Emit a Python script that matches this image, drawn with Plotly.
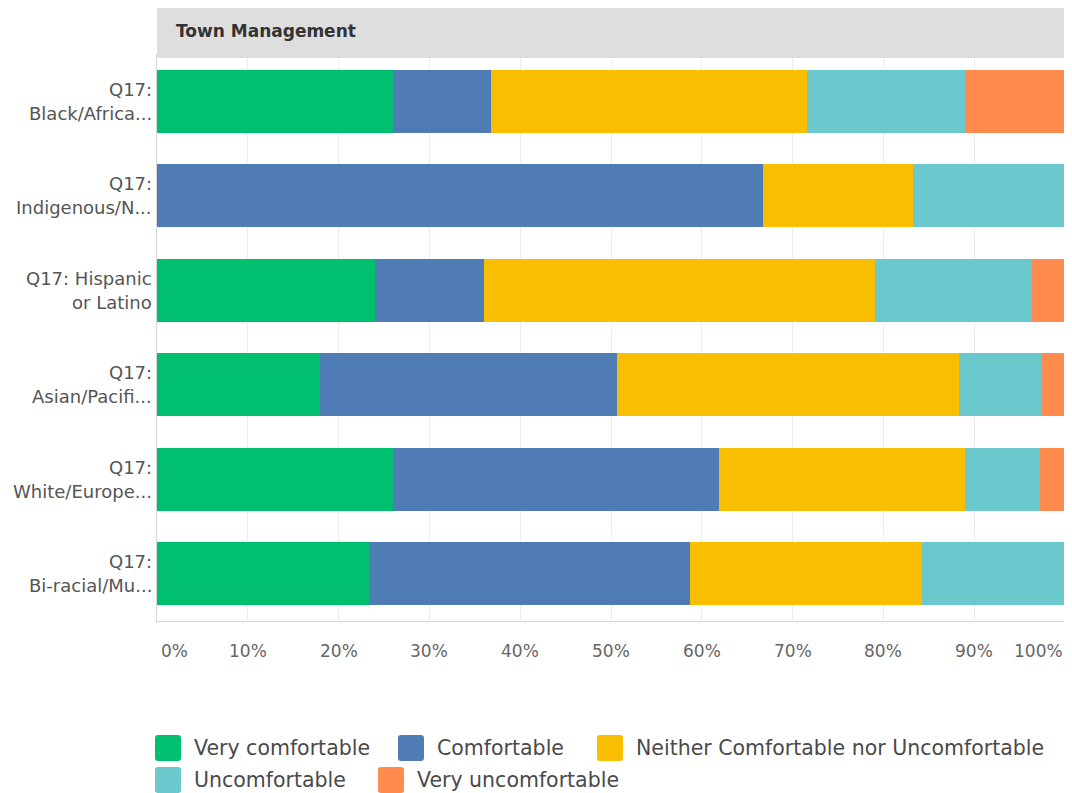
import plotly.graph_objects as go

# categories, top to bottom, label split in two lines like the original
label_line1 = ["Q17:", "Q17:", "Q17: Hispanic", "Q17:", "Q17:", "Q17:"]
label_line2 = ["Black/Africa...", "Indigenous/N...", "or Latino",
               "Asian/Pacifi...", "White/Europe...", "Bi-racial/Mu..."]
categories = [a + " " + b for a, b in zip(label_line1, label_line2)]

series_names = ["Very comfortable", "Comfortable",
                "Neither Comfortable nor Uncomfortable",
                "Uncomfortable", "Very uncomfortable"]
series_colors = ["#00bf6f", "#507cb6", "#f9be00", "#6bc8cd", "#ff8b4f"]

very_comfortable = [26.0, 0.0, 24.0, 18.0, 26.0, 23.3]
comfortable = [10.8, 66.7, 12.0, 32.7, 35.9, 35.4]
neither = [34.8, 16.6, 43.1, 37.6, 27.1, 25.5]
uncomfortable = [17.4, 16.7, 17.3, 9.1, 8.2, 15.8]
very_uncomfortable = [11.0, 0.0, 3.6, 2.6, 2.8, 0.0]

x_ticks = [0, 10, 20, 30, 40, 50, 60, 70, 80, 90, 100]
panel_title = "Town Management"

# page pixels (the browser puts the figure 8px in from the corner)
OFF = 8
W, H = 1072 - OFF, 793 - OFF
PLOT_L, PLOT_R, PLOT_T, PLOT_B = 157, 1065, 54, 621
M_L, M_T = PLOT_L - OFF, PLOT_T - OFF
M_R, M_B = W - (PLOT_R - OFF), H - (PLOT_B - OFF)
plot_w = PLOT_R - PLOT_L
plot_h = PLOT_B - PLOT_T


def px_x(px):
    return (px - PLOT_L) / plot_w


def px_y(py):
    return (PLOT_B - py) / plot_h


FONT = "DejaVu Sans"
all_series = [very_comfortable, comfortable, neither, uncomfortable, very_uncomfortable]

fig = go.Figure()
for name, color, values in zip(series_names, series_colors, all_series):
    fig.add_trace(go.Bar(
        y=categories, x=values, name=name, orientation="h",
        marker=dict(color=color, line=dict(width=0)),
        showlegend=False, hoverinfo="x+name",
    ))

annotations = []
# y labels, two lines each
for cat, l1, l2 in zip(categories, label_line1, label_line2):
    for text, shift in ((l1, 12), (l2, -12)):
        annotations.append(dict(
            x=0, xref="paper", y=cat, yref="y", text=text, showarrow=False,
            xanchor="right", yanchor="middle", xshift=-3, yshift=shift,
            font=dict(family=FONT, size=18, color="#555555"),
        ))

# x tick labels, first and last pulled inside the plot
for i, v in enumerate(x_ticks):
    anchor = "left" if i == 0 else ("right" if i == len(x_ticks) - 1 else "center")
    annotations.append(dict(
        x=v, xref="x", y=0, yref="paper", text=f"{v}%", showarrow=False,
        xanchor=anchor, yanchor="middle", yshift=-30,
        xshift=2 if i == 0 else 0,
        font=dict(family=FONT, size=17, color="#666666"),
    ))

# panel header
annotations.append(dict(
    x=0, xref="paper", y=px_y(31), yref="paper", text=f"<b>{panel_title}</b>",
    showarrow=False, xanchor="left", yanchor="middle", xshift=17,
    font=dict(family=FONT, size=17, color="#333333"),
))

shapes = [dict(
    type="rect", xref="paper", yref="paper", x0=0, x1=1,
    y0=px_y(58), y1=px_y(8), fillcolor="#dedede", line=dict(width=0), layer="above",
)]

# hand-built legend with large rounded swatches
legend_slots = [(155, 748), (398, 748), (597, 748), (155, 780), (378, 780)]
swatch = "M-10,-13 H10 Q13,-13 13,-10 V10 Q13,13 10,13 H-10 Q-13,13 -13,10 V-10 Q-13,-13 -10,-13 Z"
for name, color, (sx, sy) in zip(series_names, series_colors, legend_slots):
    shapes.append(dict(
        type="path", xref="paper", yref="paper", xsizemode="pixel", ysizemode="pixel",
        xanchor=px_x(sx + 13), yanchor=px_y(sy), path=swatch,
        fillcolor=color, line=dict(width=0),
    ))
    annotations.append(dict(
        x=px_x(sx + 37), xref="paper", y=px_y(sy), yref="paper", text=name,
        showarrow=False, xanchor="left", yanchor="middle",
        font=dict(family=FONT, size=20.5, color="#4a4a4a"),
    ))

fig.update_layout(
    width=W, height=H,
    margin=dict(l=M_L, r=M_R, t=M_T, b=M_B, autoexpand=False),
    barmode="stack", bargap=0.33,
    plot_bgcolor="white", paper_bgcolor="white",
    font=dict(family=FONT),
    annotations=annotations, shapes=shapes,
    xaxis=dict(range=[0, 100], tickvals=x_ticks, showticklabels=False,
               showgrid=True, gridcolor="#ececec", gridwidth=1, zeroline=False,
               showline=True, linecolor="#d6d6d6", linewidth=1, ticks=""),
    yaxis=dict(autorange="reversed", showticklabels=False, showgrid=False,
               showline=True, linecolor="#d6d6d6", linewidth=1, ticks=""),
)

fig.write_html("out.html")
